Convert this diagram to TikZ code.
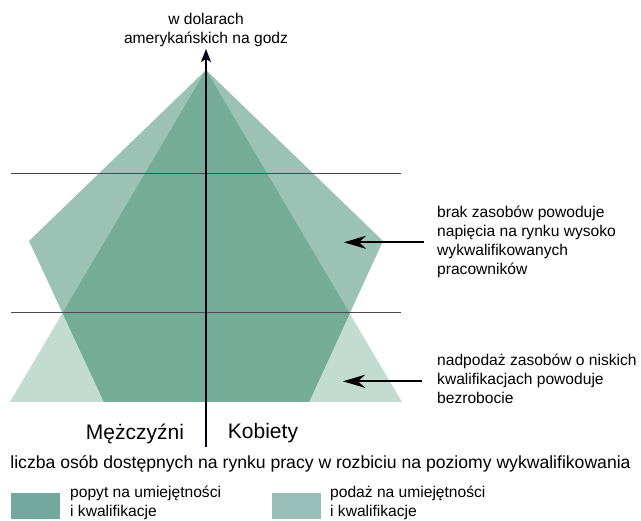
\documentclass[tikz,border=0pt]{standalone}
\usepackage{fontspec}
\setmainfont{Liberation Sans}
\usetikzlibrary{arrows.meta}
\definecolor{popyt}{HTML}{74AC98}
\definecolor{podaz}{HTML}{9BC2B4}
\definecolor{nadpodaz}{HTML}{C3DCD2}
\definecolor{legdark}{HTML}{72A89E}
\definecolor{leglight}{HTML}{99BEB8}
\definecolor{linia}{HTML}{4A4A55}
\tikzset{
  opis/.style={font=\fontsize{15.6}{19}\selectfont, align=left, inner sep=0pt},
  plec/.style={font=\fontsize{21}{24}\selectfont, inner sep=0pt},
  strzalka/.style={line width=2.4pt, -{Stealth[length=22pt,width=13pt,inset=7pt]}},
  poziom/.style={draw=linia, line width=0.9pt},
  legbox/.style={minimum width=49pt, minimum height=26pt, inner sep=0pt, anchor=north west}
}
\begin{document}
\begin{tikzpicture}[x=1pt,y=-1pt]
\useasboundingbox (0,0) rectangle (641,521);
% podaz (trojkat) i popyt (piecioboki)
\fill[nadpodaz] (206,70)--(10,402)--(402,402)--cycle;
\fill[podaz] (206,70)--(29,241)--(104,402)--(309,402)--(383,241)--cycle;
\begin{scope}
\clip (206,70)--(10,402)--(402,402)--cycle;
\fill[popyt] (206,70)--(29,241)--(104,402)--(309,402)--(383,241)--cycle;
\end{scope}
% poziomy kwalifikacji
\draw[poziom] (11,173.7)--(400.5,173.7);
\draw[poziom] (11,312.7)--(400.5,312.7);
% os
\coordinate (dol) at (206,447);
\coordinate (gora) at (206,49);
\draw[line width=1.5pt, draw=black!90!blue, -{Stealth[length=13pt,width=10pt,inset=3pt]}] (dol)--(gora);
\node[opis, align=center, anchor=south] (jedn) at (206,47) {w dolarach\\amerykańskich na godz};
\node[plec] (mezczyzni) at (135,434) {Mężczyźni};
\node[plec] (kobiety) at (263,433) {Kobiety};
\node[opis, font=\fontsize{17.6}{21}\selectfont] (liczba) at (320.5,464) {liczba osób dostępnych na rynku pracy w rozbiciu na poziomy wykwalifikowania};
% komentarze ze strzalkami
\node[opis, anchor=north west] (brak) at (437,206) {brak zasobów powoduje\\napięcia na rynku wysoko\\wykwalifikowanych\\pracowników};
\coordinate (brakA) at (424,242.3);
\coordinate (brakB) at (344,242.3);
\draw[strzalka] (brakA)--(brakB);
\node[opis, anchor=north west] (nadmiar) at (437,354) {nadpodaż zasobów o niskich\\kwalifikacjach powoduje\\bezrobocie};
\coordinate (nadmiarA) at (422,381.3);
\coordinate (nadmiarB) at (343,381.3);
\draw[strzalka] (nadmiarA)--(nadmiarB);
% legenda
\node[legbox, fill=legdark] (lpopyt) at (11,493) {};
\node[opis, anchor=north west] (tpopyt) at (70,486) {popyt na umiejętności\\i kwalifikacje};
\node[legbox, fill=leglight] (lpodaz) at (272,493) {};
\node[opis, anchor=north west] (tpodaz) at (330,486) {podaż na umiejętności\\i kwalifikacje};
\end{tikzpicture}
\end{document}
